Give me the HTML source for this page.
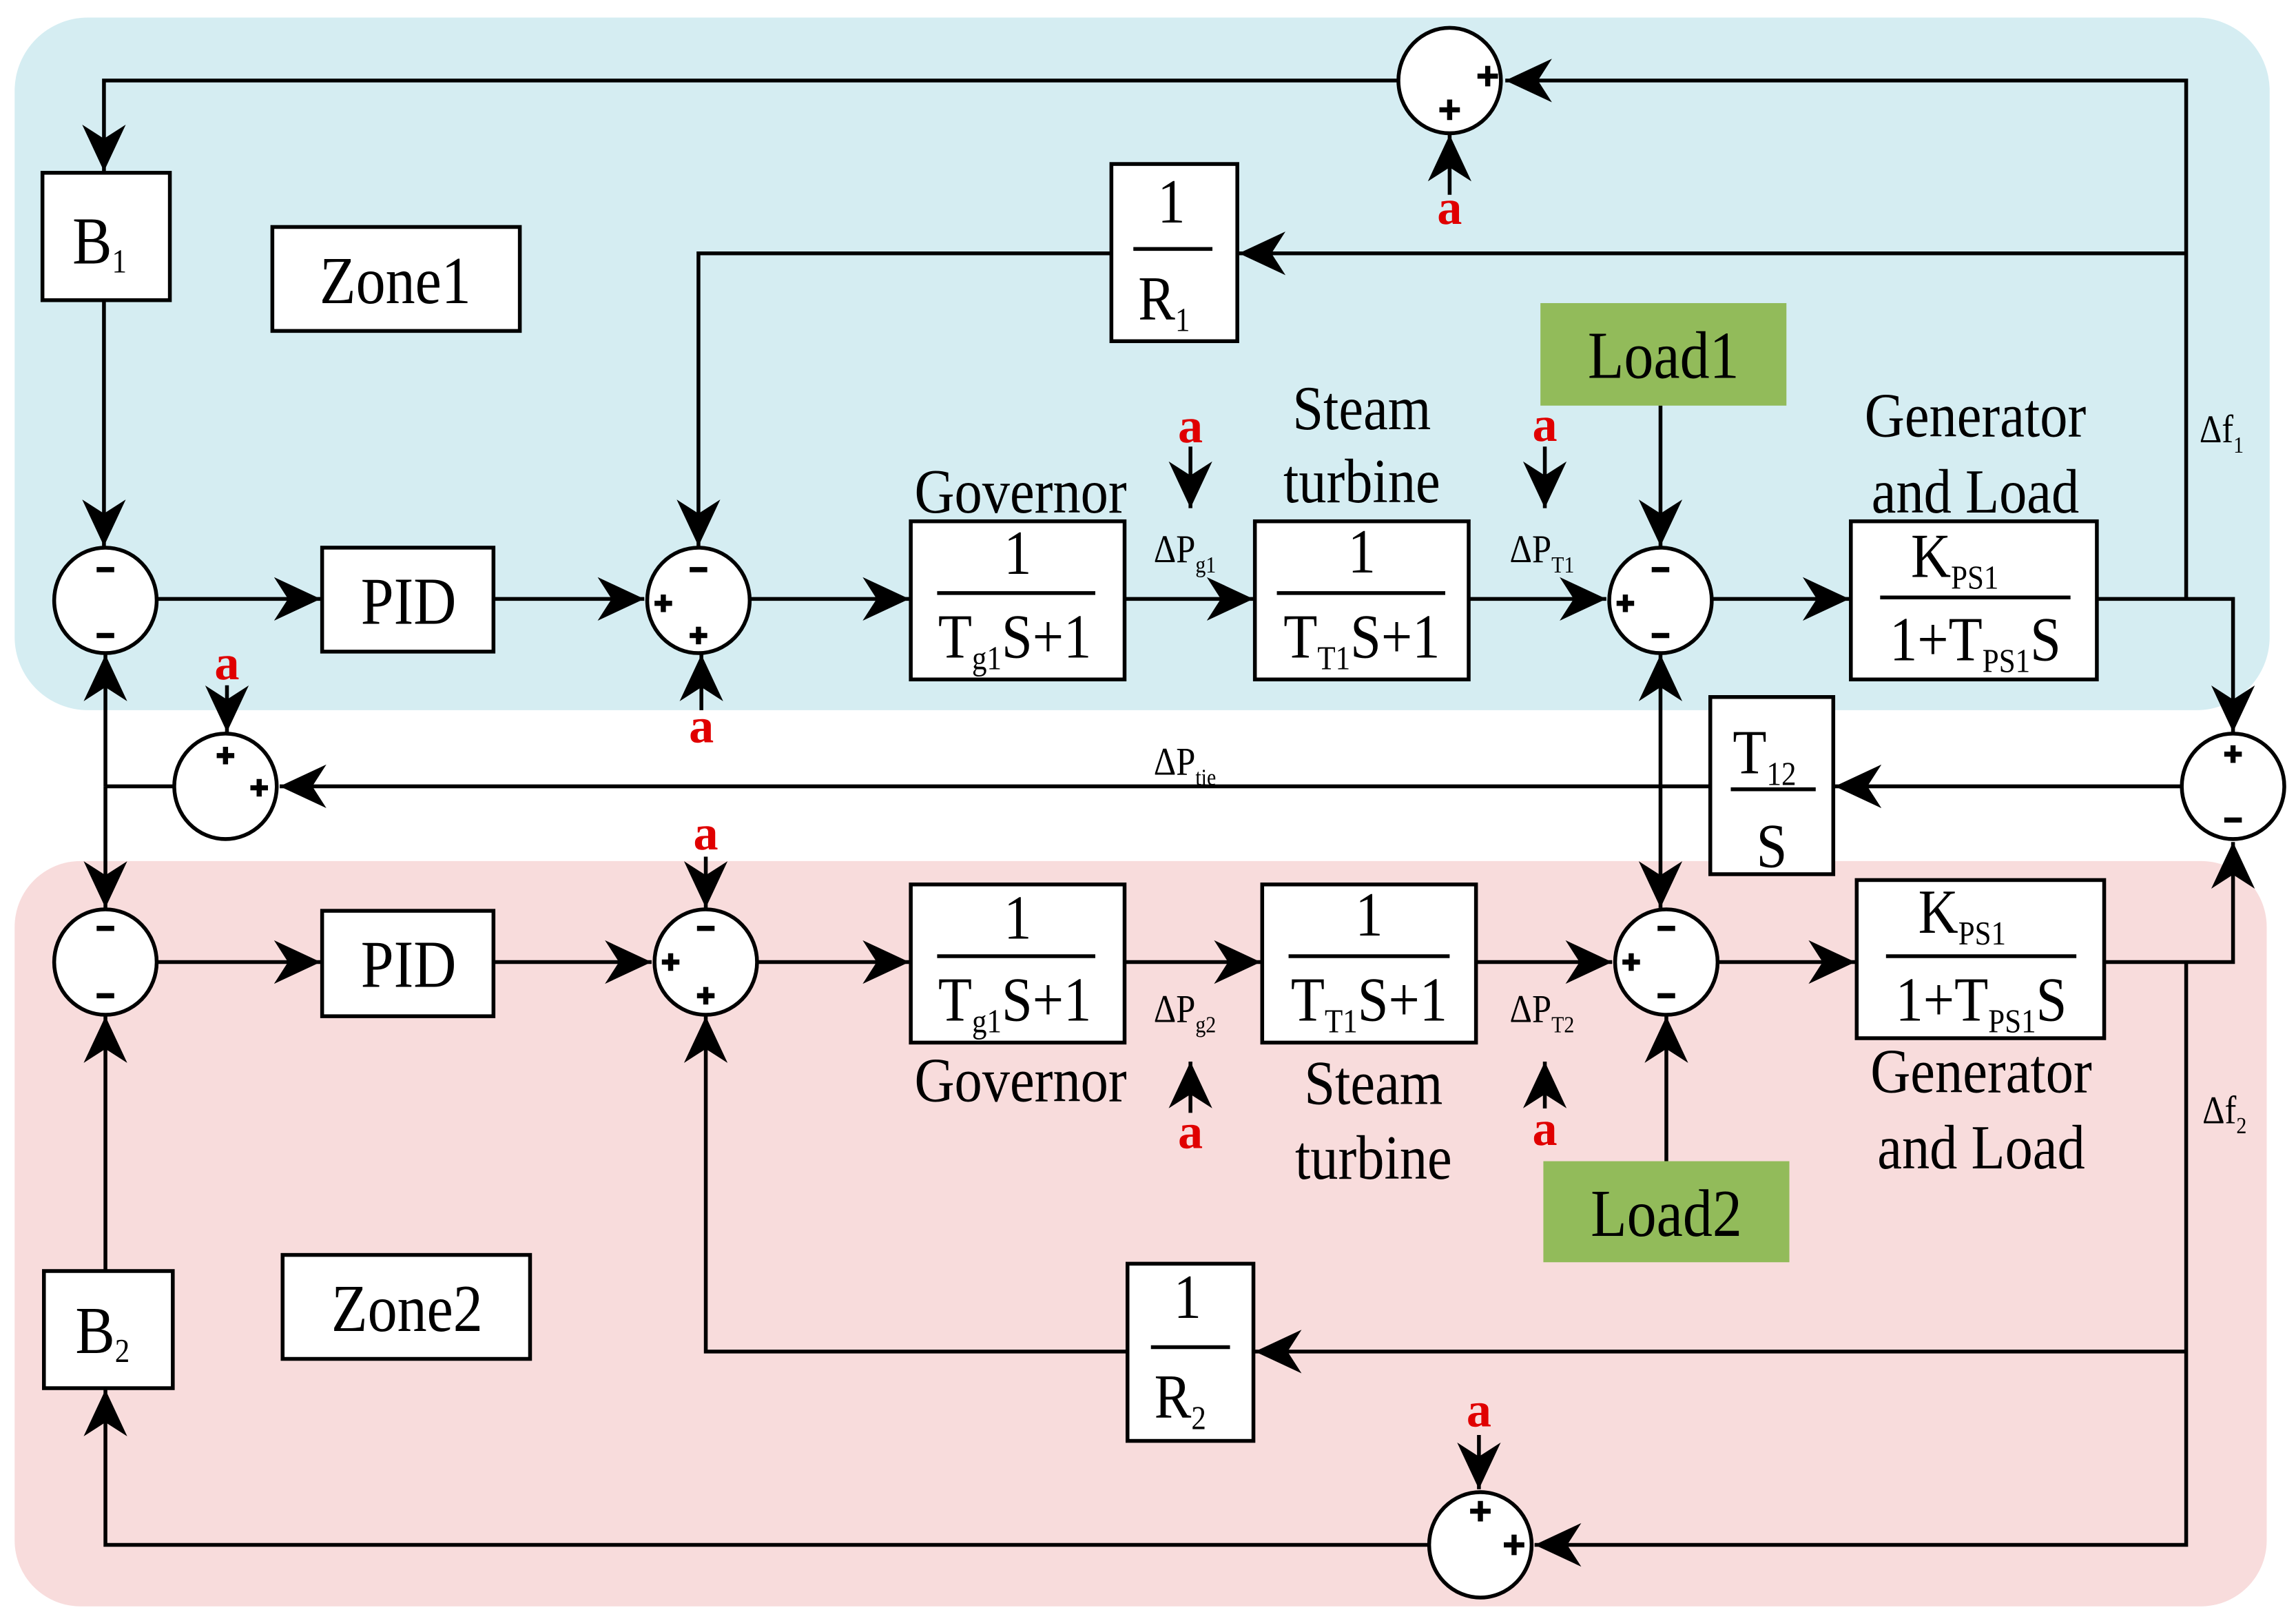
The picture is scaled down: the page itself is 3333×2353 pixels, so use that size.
<!DOCTYPE html>
<html><head><meta charset="utf-8"><style>
html,body{margin:0;padding:0;background:#fff;}
svg{display:block;}
text{font-family:"Liberation Serif",serif;fill:#000;}
.t{font-size:46px;text-anchor:middle;}
.m{font-size:43px;text-anchor:middle;}
.s{font-size:23px;}
.a{font-size:34px;font-weight:bold;fill:#e00000;text-anchor:middle;}
.l{font-size:27px;}
.c{transform-box:fill-box;transform-origin:center;transform:scaleX(0.88);}
</style></head><body>
<svg width="3333" height="2353" viewBox="0 0 1568 1107" preserveAspectRatio="none" xmlns="http://www.w3.org/2000/svg">
<defs>
<marker id="ar" markerUnits="userSpaceOnUse" markerWidth="34" markerHeight="34" viewBox="-30 -15 32 30" refX="0" refY="0" orient="auto">
<path d="M0,0 L-30,-14 L-21,0 L-30,14 Z" fill="#000"/>
</marker>
</defs>
<rect x="10" y="12" width="1540" height="473" rx="50" fill="#d5edf2"/>
<rect x="10" y="588" width="1538" height="509" rx="45" fill="#f8dcdc"/>
<g stroke="#000" stroke-width="2.6" fill="none">
<path d="M955,55 L71,55 L71,117" marker-end="url(#ar)"/>
<path d="M1493,409 L1493,55 L1028,55" marker-end="url(#ar)"/>
<path d="M990,133 L990,92" marker-end="url(#ar)"/>
<path d="M1493,173 L846,173" marker-end="url(#ar)"/>
<path d="M759,173 L477,173 L477,373" marker-end="url(#ar)"/>
<path d="M71,205 L71,373" marker-end="url(#ar)"/>
<path d="M108,409 L219,409" marker-end="url(#ar)"/>
<path d="M337,409 L440,409" marker-end="url(#ar)"/>
<path d="M479,485 L479,447" marker-end="url(#ar)"/>
<path d="M513,409 L621,409" marker-end="url(#ar)"/>
<path d="M768,409 L856,409" marker-end="url(#ar)"/>
<path d="M813,305 L813,347" marker-end="url(#ar)"/>
<path d="M1003,409 L1097,409" marker-end="url(#ar)"/>
<path d="M1055,305 L1055,347" marker-end="url(#ar)"/>
<path d="M1134,277 L1134,373" marker-end="url(#ar)"/>
<path d="M1170,409 L1263,409" marker-end="url(#ar)"/>
<path d="M1432,409 L1525,409 L1525,500" marker-end="url(#ar)"/>
<path d="M1489,537 L1253,537" marker-end="url(#ar)"/>
<path d="M1168,537 L191,537" marker-end="url(#ar)"/>
<path d="M155,468 L155,500" marker-end="url(#ar)"/>
<path d="M118,537 L72,537"/>
<path d="M72,537 L72,447" marker-end="url(#ar)"/>
<path d="M72,537 L72,620" marker-end="url(#ar)"/>
<path d="M1134,530 L1134,447" marker-end="url(#ar)"/>
<path d="M1134,530 L1134,620" marker-end="url(#ar)"/>
<path d="M108,657 L219,657" marker-end="url(#ar)"/>
<path d="M337,657 L445,657" marker-end="url(#ar)"/>
<path d="M482,585 L482,620" marker-end="url(#ar)"/>
<path d="M518,657 L621,657" marker-end="url(#ar)"/>
<path d="M768,657 L861,657" marker-end="url(#ar)"/>
<path d="M813,760 L813,725" marker-end="url(#ar)"/>
<path d="M1008,657 L1101,657" marker-end="url(#ar)"/>
<path d="M1055,757 L1055,725" marker-end="url(#ar)"/>
<path d="M1138,793 L1138,694" marker-end="url(#ar)"/>
<path d="M1174,657 L1267,657" marker-end="url(#ar)"/>
<path d="M1437,657 L1525,657 L1525,575" marker-end="url(#ar)"/>
<path d="M1493,657 L1493,1055 L1048,1055" marker-end="url(#ar)"/>
<path d="M1493,923 L857,923" marker-end="url(#ar)"/>
<path d="M770,923 L482,923 L482,694" marker-end="url(#ar)"/>
<path d="M1010,980 L1010,1017" marker-end="url(#ar)"/>
<path d="M975,1055 L72,1055 L72,949" marker-end="url(#ar)"/>
<path d="M72,868 L72,694" marker-end="url(#ar)"/>
</g>
<g stroke="#000" stroke-width="2.6" fill="#fff">
<rect x="29" y="118" width="87" height="87"/>
<rect x="186" y="155" width="169" height="71"/>
<rect x="759" y="112" width="86" height="121"/>
<rect x="220" y="374" width="117" height="71"/>
<rect x="622" y="356" width="146" height="108"/>
<rect x="857" y="356" width="146" height="108"/>
<rect x="1264" y="356" width="168" height="108"/>
<rect x="1168" y="476" width="84" height="121"/>
<rect x="220" y="622" width="117" height="72"/>
<rect x="622" y="604" width="146" height="108"/>
<rect x="862" y="604" width="146" height="108"/>
<rect x="1268" y="601" width="169" height="108"/>
<rect x="770" y="863" width="86" height="121"/>
<rect x="30" y="868" width="88" height="80"/>
<rect x="193" y="857" width="169" height="71"/>
<ellipse cx="990" cy="55" rx="35" ry="36"/>
<ellipse cx="72" cy="410" rx="35" ry="36"/>
<ellipse cx="477" cy="410" rx="35" ry="36"/>
<ellipse cx="1134" cy="410" rx="35" ry="36"/>
<ellipse cx="1525" cy="537" rx="35" ry="36"/>
<ellipse cx="154" cy="537" rx="35" ry="36"/>
<ellipse cx="72" cy="657" rx="35" ry="36"/>
<ellipse cx="482" cy="657" rx="35" ry="36"/>
<ellipse cx="1138" cy="657" rx="35" ry="36"/>
<ellipse cx="1011" cy="1055" rx="35" ry="36"/>
</g>
<rect x="1052" y="207" width="168" height="70" fill="#92bb5a"/>
<rect x="1054" y="793" width="168" height="69" fill="#92bb5a"/>
<g stroke="#000" stroke-width="2.6">
<line x1="774" y1="170" x2="828" y2="170"/>
<line x1="640" y1="405" x2="748" y2="405"/>
<line x1="872" y1="405" x2="987" y2="405"/>
<line x1="1284" y1="408" x2="1414" y2="408"/>
<line x1="1182" y1="539" x2="1240" y2="539"/>
<line x1="640" y1="653" x2="748" y2="653"/>
<line x1="880" y1="653" x2="990" y2="653"/>
<line x1="1288" y1="653" x2="1418" y2="653"/>
<line x1="786" y1="920" x2="840" y2="920"/>
</g>
<g stroke="#000" stroke-width="3.5">
<path d="M1009,52h14M1016,45v14"/><path d="M983,75h14M990,68v14"/>
<path d="M66,389h12M66,434h12"/>
<path d="M471,389h12M447,412h12M453,406v12M471,434h12M477,428v12"/>
<path d="M1128,389h12M1104,412h12M1110,406v12M1128,434h12"/>
<path d="M1519,515h12M1525,509v12M1519,560h12"/>
<path d="M148,516h12M154,510v12M171,538h12M177,532v12"/>
<path d="M66,634h12M66,680h12"/>
<path d="M476,634h12M452,657h12M458,651v12M476,680h12M482,674v12"/>
<path d="M1132,634h12M1108,657h12M1114,651v12M1132,680h12"/>
<path d="M1004,1032h14M1011,1025v14M1027,1055h14M1034,1048v14"/>
</g>
<g class="cc">
<text class="t c" x="68" y="180">B<tspan class="s" dy="6">1</tspan></text>
<text class="t c" x="270" y="207">Zone1</text>
<text class="m c" x="800" y="152">1</text>
<text class="m c" x="795" y="218">R<tspan class="s" dy="8">1</tspan></text>
<text class="t c" x="279" y="426">PID</text>
<text class="m c" x="697" y="350">Governor</text>
<text class="m c" x="695" y="392">1</text>
<text class="m c" x="693" y="449">T<tspan class="s" dy="8">g1</tspan><tspan dy="-8">S+1</tspan></text>
<text class="m c" x="930" y="293">Steam</text>
<text class="m c" x="930" y="343">turbine</text>
<text class="m c" x="930" y="391">1</text>
<text class="m c" x="930" y="449">T<tspan class="s" dy="8">T1</tspan><tspan dy="-8">S+1</tspan></text>
<text class="t c" x="1136" y="258">Load1</text>
<text class="m c" x="1349" y="298">Generator</text>
<text class="m c" x="1349" y="350">and Load</text>
<text class="m c" x="1335" y="394">K<tspan class="s" dy="8">PS1</tspan></text>
<text class="m c" x="1349" y="451">1+T<tspan class="s" dy="8">PS1</tspan><tspan dy="-8">S</tspan></text>
<text class="l c" x="785" y="384">ΔP<tspan font-size="16" dy="7">g1</tspan></text>
<text class="l c" x="1028" y="384">ΔP<tspan font-size="16" dy="7">T1</tspan></text>
<text class="l c" x="1500" y="302">Δf<tspan font-size="16" dy="7">1</tspan></text>
<text class="l c" x="785" y="529">ΔP<tspan font-size="16" dy="7">tie</tspan></text>
<text class="m c" x="1205" y="528">T<tspan class="s" dy="8">12</tspan></text>
<text class="m c" x="1210" y="592">S</text>
<text class="t c" x="279" y="674">PID</text>
<text class="m c" x="695" y="641">1</text>
<text class="m c" x="693" y="697">T<tspan class="s" dy="8">g1</tspan><tspan dy="-8">S+1</tspan></text>
<text class="m c" x="697" y="752">Governor</text>
<text class="m c" x="935" y="639">1</text>
<text class="m c" x="935" y="697">T<tspan class="s" dy="8">T1</tspan><tspan dy="-8">S+1</tspan></text>
<text class="m c" x="938" y="754">Steam</text>
<text class="m c" x="938" y="805">turbine</text>
<text class="t c" x="1138" y="844">Load2</text>
<text class="m c" x="1340" y="637">K<tspan class="s" dy="8">PS1</tspan></text>
<text class="m c" x="1353" y="697">1+T<tspan class="s" dy="8">PS1</tspan><tspan dy="-8">S</tspan></text>
<text class="m c" x="1353" y="746">Generator</text>
<text class="m c" x="1353" y="798">and Load</text>
<text class="l c" x="785" y="698">ΔP<tspan font-size="16" dy="7">g2</tspan></text>
<text class="l c" x="1028" y="698">ΔP<tspan font-size="16" dy="7">T2</tspan></text>
<text class="l c" x="1502" y="767">Δf<tspan font-size="16" dy="7">2</tspan></text>
<text class="m c" x="811" y="900">1</text>
<text class="m c" x="806" y="968">R<tspan class="s" dy="8">2</tspan></text>
<text class="t c" x="70" y="924">B<tspan class="s" dy="6">2</tspan></text>
<text class="t c" x="278" y="909">Zone2</text>
</g>
<text class="a" x="990" y="153">a</text>
<text class="a" x="479" y="507">a</text>
<text class="a" x="813" y="302">a</text>
<text class="a" x="1055" y="301">a</text>
<text class="a" x="155" y="464">a</text>
<text class="a" x="482" y="580">a</text>
<text class="a" x="813" y="784">a</text>
<text class="a" x="1055" y="782">a</text>
<text class="a" x="1010" y="974">a</text>
</svg>
</body></html>
